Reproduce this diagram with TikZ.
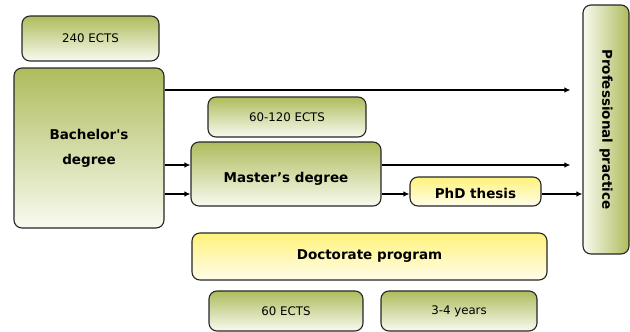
\documentclass[tikz,border=0pt]{standalone}
\usepackage{fontspec}
\setmainfont{DejaVu Sans}
\usetikzlibrary{arrows.meta}
\definecolor{gtop}{HTML}{AEBC5C}
\definecolor{gbot}{HTML}{F9FAF0}
\definecolor{ytop}{HTML}{FFF27A}
\definecolor{ybot}{HTML}{FFFDEB}
\begin{document}
\begin{tikzpicture}[x=1pt,y=-1pt,
  box/.style={draw=black!85,line width=1.1pt,rounded corners=8pt,inner sep=0pt,align=center},
  gbox/.style={box,top color=gtop,bottom color=gbot},
  ybox/.style={box,top color=ytop,bottom color=ybot},
  reg/.style={font=\fontsize{11.8}{14}\selectfont},
  bld/.style={font=\fontsize{13.5}{25}\selectfont\bfseries},
  arr/.style={line width=1.3pt,-{Latex[length=6pt,width=5.5pt]}}]
\useasboundingbox (0,0) rectangle (630,332);
\node[gbox,reg,minimum width=137pt,minimum height=45pt] (e240) at (90.5,38.5) {240 ECTS};
\node[gbox,bld,minimum width=150pt,minimum height=160pt] (bach) at (89,148) {Bachelor\textquotesingle s\\degree};
\node[gbox,reg,minimum width=158pt,minimum height=40pt] (e60120) at (287,117) {60-120 ECTS};
\node[gbox,bld,minimum width=190pt,minimum height=64pt] (mast) at (286,174) {\raisebox{-5pt}[\height][\depth]{Master’s degree}};
\node[ybox,bld,minimum width=131pt,minimum height=29pt] (phd) at (475.5,191.5) {\raisebox{-1.5pt}[\height][\depth]{PhD thesis}};
\node[ybox,bld,minimum width=355pt,minimum height=47pt] (doc) at (369.5,256.5) {Doctorate program};
\node[gbox,reg,minimum width=154pt,minimum height=40pt] (e60) at (286,311) {60 ECTS};
\node[gbox,reg,minimum width=156pt,minimum height=40pt] (yrs) at (459,311) {3-4 years};
\node[box,left color=gbot,right color=gtop,font=\fontsize{13.5}{16}\selectfont\bfseries,rotate=-90,minimum width=249pt,minimum height=46pt] (pp) at (606,129.5) {Professional practice};
\draw[arr,shorten >=12pt] (bach.east |- 0,90) -- (pp.south |- 0,90);
\draw[arr,shorten >=12pt] (mast.east |- 0,165) -- (pp.south |- 0,165);
\draw[arr] (bach.east |- 0,165) -- (mast.west |- 0,165);
\draw[arr] (bach.east |- 0,194) -- (mast.west |- 0,194);
\draw[arr] (mast.east |- 0,194) -- (phd.west |- 0,194);
\draw[arr] (phd.east |- 0,194) -- (pp.south |- 0,194);
\end{tikzpicture}
\end{document}
